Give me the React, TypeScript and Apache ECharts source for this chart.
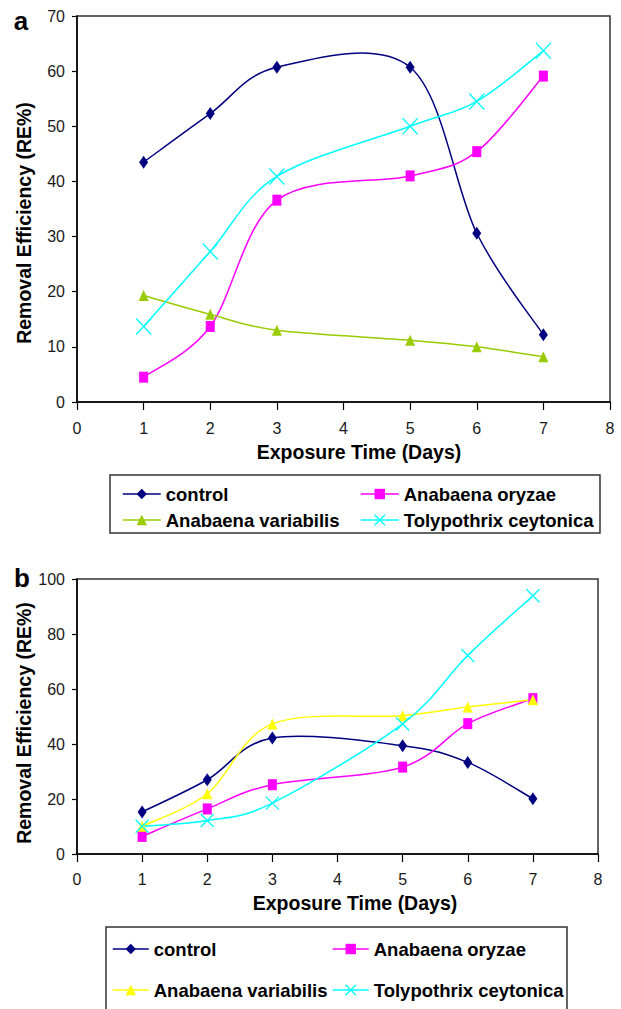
import React, { useEffect, useRef } from 'react';
import * as echarts from 'echarts';

// Exposure time (days) at which measurements were taken
const days = [1, 2, 3, 5, 6, 7];

// Panel a — Removal Efficiency (RE%)
const aControl = [43.5, 52.3, 60.7, 60.7, 30.6, 12.2];
const aOryzae = [4.5, 13.7, 36.6, 41.0, 45.4, 59.1];
const aVariabilis = [19.3, 15.9, 13.0, 11.2, 10.0, 8.2];
const aTolypothrix = [13.7, 27.3, 40.9, 50.0, 54.5, 63.7];

// Panel b — Removal Efficiency (RE%)
const bControl = [15.3, 27.0, 42.2, 39.4, 33.3, 20.1];
const bOryzae = [6.4, 16.4, 25.2, 31.6, 47.4, 56.5];
const bVariabilis = [10.1, 21.9, 47.3, 50.3, 53.5, 56.1];
const bTolypothrix = [10.1, 12.2, 18.5, 47.3, 72.2, 93.9];

const seriesNames = ['control', 'Anabaena oryzae', 'Anabaena variabilis', 'Tolypothrix ceytonica'];
const aColors = ['#000080', '#FF00FF', '#99CC00', '#00FFFF'];
const bColors = ['#000080', '#FF00FF', '#FFFF00', '#00FFFF'];
const symbols = ['diamond', 'rect', 'triangle', 'path://M0,0L10,10M10,0L0,10'];

const FONT = '"Liberation Sans", Arial, Helvetica, sans-serif';

function curveRenderer(xs: number[], ys: number[], color: string) {
  return (params: any, api: any) => {
    const i = params.dataIndex;
    const n = xs.length;
    if (i >= n - 1) return null;
    const pt = (k: number) => {
      const j = Math.max(0, Math.min(n - 1, k));
      return api.coord([xs[j], ys[j]]);
    };
    const p0 = pt(i - 1);
    const p1 = pt(i);
    const p2 = pt(i + 1);
    const p3 = pt(i + 2);
    return {
      type: 'bezierCurve',
      silent: true,
      shape: {
        x1: p1[0],
        y1: p1[1],
        x2: p2[0],
        y2: p2[1],
        cpx1: p1[0] + (p2[0] - p0[0]) / 6,
        cpy1: p1[1] + (p2[1] - p0[1]) / 6,
        cpx2: p2[0] - (p3[0] - p1[0]) / 6,
        cpy2: p2[1] - (p3[1] - p1[1]) / 6,
      },
      style: { stroke: color, lineWidth: 1.5, fill: 'none' },
    };
  };
}

function buildSeries(
  vals: number[][],
  colors: string[],
  sizes: number[][],
  prefix: string,
  axisIndex: number
) {
  const out: any[] = [];
  vals.forEach((ys, k) => {
    const data = days.map((d, i) => [d, ys[i]]);
    out.push({
      type: 'custom',
      id: `${prefix}curve${k}`,
      xAxisIndex: axisIndex,
      yAxisIndex: axisIndex,
      data,
      encode: { x: 0, y: 1 },
      renderItem: curveRenderer(days, ys, colors[k]),
      z: 2,
      silent: true,
    });
    out.push({
      type: 'line',
      name: prefix + seriesNames[k],
      xAxisIndex: axisIndex,
      yAxisIndex: axisIndex,
      data,
      symbol: symbols[k],
      symbolSize: sizes[k],
      showSymbol: true,
      itemStyle: {
        color: colors[k],
        borderColor: colors[k],
        borderWidth: k === 3 ? 1.3 : 0,
      },
      lineStyle: { color: colors[k], width: 1.5, opacity: 0 },
      emphasis: { disabled: true },
      z: 3,
      silent: true,
    });
  });
  return out;
}

function legendItem(name: string, left: number, top: number, itemWidth: number, isCross: boolean) {
  return {
    data: [name],
    left,
    top,
    padding: 0,
    itemWidth,
    itemHeight: 13,
    itemGap: 0,
    selectedMode: false,
    formatter: (n: string) => n.replace(/^[ab]:/, ''),
    textStyle: { fontSize: 18.5, fontWeight: 'bold', color: '#000', fontFamily: FONT, lineHeight: 20 },
    lineStyle: { width: 1.5, opacity: 1 },
    itemStyle: isCross ? { borderWidth: 1.3 } : {},
  };
}

function axisCommon() {
  return {
    axisLine: { show: true, lineStyle: { color: '#000', width: 1.5 } },
    axisTick: { show: true, inside: false, lineStyle: { color: '#000', width: 1.2 } },
    splitLine: { show: false },
  };
}

export default function App() {
  const ref = useRef<HTMLDivElement>(null);

  useEffect(() => {
    if (!ref.current) return;
    const chart = echarts.init(ref.current, undefined, { renderer: 'svg' });

    const aSizes = [[9, 13], [9, 11], [10, 11], [15, 16]];
    const bSizes = [[9, 13], [9, 11], [10, 11], [13, 13]];

    const option: any = {
      animation: false,
      backgroundColor: '#fff',
      grid: [
        { left: 77, top: 16, width: 533, height: 386, show: true, borderColor: '#333', borderWidth: 1.5, backgroundColor: 'transparent' },
        { left: 77, top: 579, width: 521, height: 275, show: true, borderColor: '#333', borderWidth: 1.5, backgroundColor: 'transparent' },
      ],
      xAxis: [
        {
          type: 'value', gridIndex: 0, min: 0, max: 8, interval: 1,
          ...axisCommon(),
          axisTick: { show: true, length: 8, lineStyle: { color: '#000', width: 1.2 } },
          axisLabel: { margin: 18, fontSize: 16, color: '#1a1a1a', fontFamily: FONT },
        },
        {
          type: 'value', gridIndex: 1, min: 0, max: 8, interval: 1,
          ...axisCommon(),
          axisTick: { show: true, length: 8, lineStyle: { color: '#000', width: 1.2 } },
          axisLabel: { margin: 17, fontSize: 16, color: '#1a1a1a', fontFamily: FONT },
        },
      ],
      yAxis: [
        {
          type: 'value', gridIndex: 0, min: 0, max: 70, interval: 10,
          ...axisCommon(),
          axisTick: { show: true, length: 5, lineStyle: { color: '#000', width: 1.2 } },
          axisLabel: { margin: 12, fontSize: 16, color: '#1a1a1a', fontFamily: FONT },
        },
        {
          type: 'value', gridIndex: 1, min: 0, max: 100, interval: 20,
          ...axisCommon(),
          axisTick: { show: true, length: 5, lineStyle: { color: '#000', width: 1.2 } },
          axisLabel: { margin: 12, fontSize: 16, color: '#1a1a1a', fontFamily: FONT },
        },
      ],
      legend: [
        legendItem('a:' + seriesNames[0], 122, 484, 38, false),
        legendItem('a:' + seriesNames[1], 360, 484, 38, false),
        legendItem('a:' + seriesNames[2], 122, 510, 38, false),
        legendItem('a:' + seriesNames[3], 360, 510, 38, true),
        legendItem('b:' + seriesNames[0], 112, 939, 36, false),
        legendItem('b:' + seriesNames[1], 332, 939, 36, false),
        legendItem('b:' + seriesNames[2], 112, 980, 36, false),
        legendItem('b:' + seriesNames[3], 332, 980, 36, true),
      ],
      graphic: [
        { type: 'rect', z: 0, shape: { x: 110, y: 475, width: 490, height: 58 }, style: { fill: 'none', stroke: '#333', lineWidth: 1.5 } },
        { type: 'rect', z: 0, shape: { x: 106, y: 927, width: 461, height: 92 }, style: { fill: 'none', stroke: '#333', lineWidth: 1.5 } },
        { type: 'text', x: 21, y: 21, style: { text: 'a', font: `bold 26px ${FONT}`, fill: '#000', align: 'center', verticalAlign: 'middle', textAlign: 'center', textVerticalAlign: 'middle' } },
        { type: 'text', x: 22, y: 578, style: { text: 'b', font: `bold 26px ${FONT}`, fill: '#000', align: 'center', verticalAlign: 'middle', textAlign: 'center', textVerticalAlign: 'middle' } },
        { type: 'text', x: 359, y: 452, style: { text: 'Exposure Time (Days)', font: `bold 19.5px ${FONT}`, fill: '#000', align: 'center', verticalAlign: 'middle', textAlign: 'center', textVerticalAlign: 'middle' } },
        { type: 'text', x: 355, y: 903, style: { text: 'Exposure Time (Days)', font: `bold 19.5px ${FONT}`, fill: '#000', align: 'center', verticalAlign: 'middle', textAlign: 'center', textVerticalAlign: 'middle' } },
        { type: 'text', x: 24, y: 223, rotation: Math.PI / 2, style: { text: 'Removal Efficiency (RE%)', font: `bold 19.5px ${FONT}`, fill: '#000', align: 'center', verticalAlign: 'middle', textAlign: 'center', textVerticalAlign: 'middle' } },
        { type: 'text', x: 24, y: 723, rotation: Math.PI / 2, style: { text: 'Removal Efficiency (RE%)', font: `bold 19.5px ${FONT}`, fill: '#000', align: 'center', verticalAlign: 'middle', textAlign: 'center', textVerticalAlign: 'middle' } },
      ],
      series: [
        ...buildSeries([aControl, aOryzae, aVariabilis, aTolypothrix], aColors, aSizes, 'a:', 0),
        ...buildSeries([bControl, bOryzae, bVariabilis, bTolypothrix], bColors, bSizes, 'b:', 1),
      ],
    };

    chart.setOption(option);
    return () => {
      chart.dispose();
    };
  }, []);

  return (
    <div
      ref={ref}
      style={{ position: 'absolute', left: 0, top: 0, width: 621, height: 1009, background: '#fff' }}
    />
  );
}
